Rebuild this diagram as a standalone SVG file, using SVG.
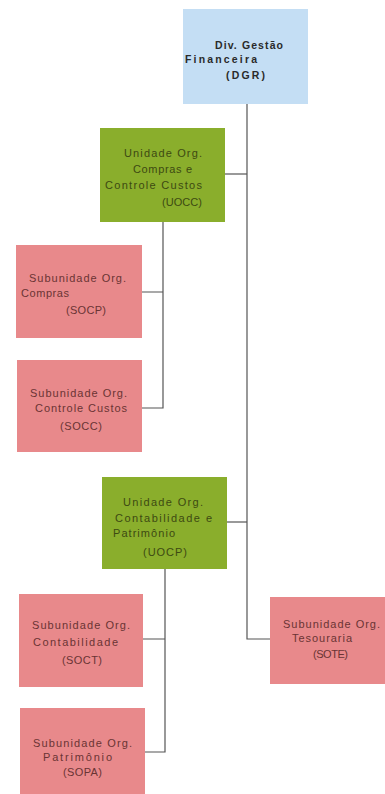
<svg xmlns="http://www.w3.org/2000/svg" width="385" height="794" viewBox="0 0 385 794">
<style>
.blue{fill:#c4def4}
.green{fill:#8aae2c}
.pink{fill:#e8898b}
text{font-family:"Liberation Sans",Arial,sans-serif;font-size:11px;fill:#6a3434}
.g text{fill:#3d4a12}
.b text{fill:#2a2a2a;font-weight:bold;font-size:10.5px}
.c{fill:none;stroke:#555;stroke-width:1.2}
</style>
<rect width="385" height="794" fill="#fff"/>
<g id="connectors">
<path class="c" d="M247,103 V639 H271"/>
<path class="c" d="M225,174 H247"/>
<path class="c" d="M227,522 H247"/>
<path class="c" d="M163,222 V408 H142 M142,292 H163"/>
<path class="c" d="M165,569 V752 H145 M143,639 H165"/>
</g>
<g id="DGR" class="b">
<rect class="blue" x="183" y="9" width="125" height="95"/>
<text x="215" y="49" textLength="68">Div. Gestão</text>
<text x="185" y="63" textLength="72">Financeira</text>
<text x="226" y="79" textLength="39">(DGR)</text>
</g>
<g id="UOCC" class="g">
<rect class="green" x="100" y="128" width="125" height="94"/>
<text x="124" y="157" textLength="78">Unidade Org.</text>
<text x="133" y="173" textLength="59">Compras e</text>
<text x="105" y="189" textLength="97">Controle Custos</text>
<text x="162" y="206" textLength="40">(UOCC)</text>
</g>
<g id="SOCP">
<rect class="pink" x="16" y="245" width="126" height="93"/>
<text x="29" y="282" textLength="97">Subunidade Org.</text>
<text x="21" y="297" textLength="48">Compras</text>
<text x="66" y="314" textLength="40">(SOCP)</text>
</g>
<g id="SOCC">
<rect class="pink" x="17" y="360" width="125" height="92"/>
<text x="30" y="397" textLength="97">Subunidade Org.</text>
<text x="35" y="412" textLength="92">Controle Custos</text>
<text x="60" y="430" textLength="42">(SOCC)</text>
</g>
<g id="UOCP" class="g">
<rect class="green" x="102" y="477" width="125" height="92"/>
<text x="123" y="506" textLength="80">Unidade Org.</text>
<text x="115" y="522" textLength="97">Contabilidade e</text>
<text x="113" y="537" textLength="62">Patrimônio</text>
<text x="143" y="556" textLength="44">(UOCP)</text>
</g>
<g id="SOCT">
<rect class="pink" x="19" y="594" width="124" height="93"/>
<text x="32" y="629" textLength="98">Subunidade Org.</text>
<text x="33" y="646" textLength="85">Contabilidade</text>
<text x="62" y="664" textLength="40">(SOCT)</text>
</g>
<g id="SOPA">
<rect class="pink" x="20" y="708" width="125" height="86"/>
<text x="33" y="747" textLength="99">Subunidade Org.</text>
<text x="43" y="761" textLength="69">Patrimônio</text>
<text x="63" y="776" textLength="39">(SOPA)</text>
</g>
<g id="SOTE">
<rect class="pink" x="270" y="597" width="115" height="87"/>
<text x="283" y="628" textLength="97">Subunidade Org.</text>
<text x="292" y="642" textLength="60">Tesouraria</text>
<text x="313" y="658" textLength="35">(SOTE)</text>
</g>
</svg>
